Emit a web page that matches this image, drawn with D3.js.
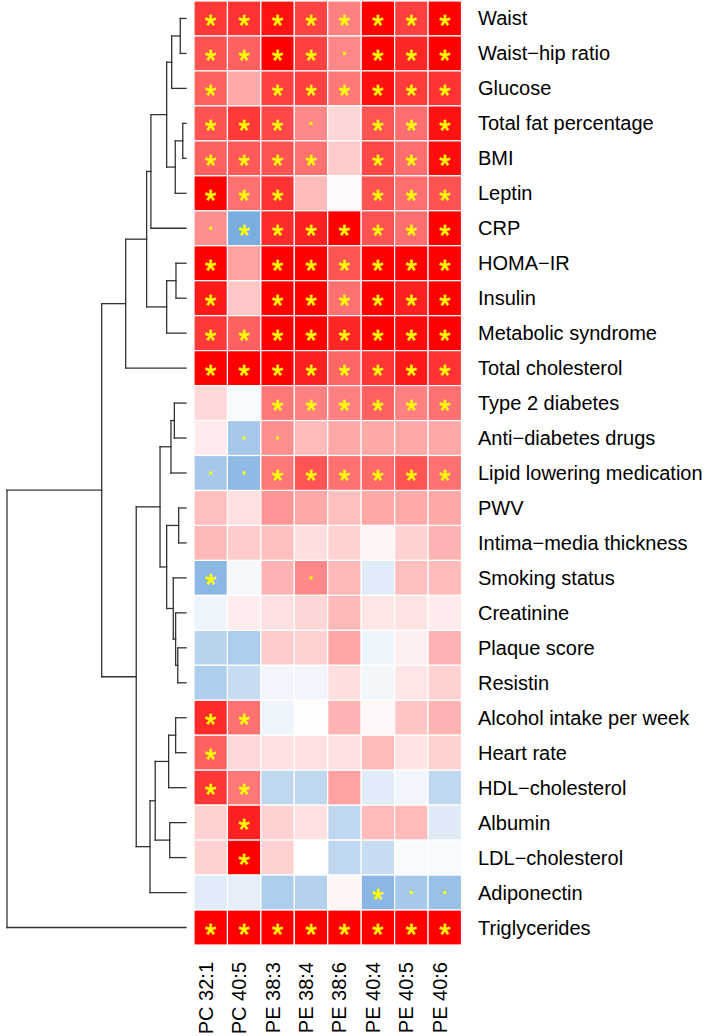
<!DOCTYPE html>
<html>
<head>
<meta charset="utf-8">
<script src="https://cdn.jsdelivr.net/npm/d3@7"></script>
<style>
  html, body { margin: 0; padding: 0; background: #ffffff; }
  svg { display: block; }
  text { font-family: "Liberation Sans", Arial, Helvetica, sans-serif; }
</style>
</head>
<body>
<div id="chart"></div>
<script>
// ---------------- data ----------------
const columns = ["PC 32:1", "PC 40:5", "PE 38:3", "PE 38:4", "PE 38:6", "PE 40:4", "PE 40:5", "PE 40:6"];

const rows = [
  "Waist", "Waist\u2212hip ratio", "Glucose", "Total fat percentage", "BMI", "Leptin", "CRP",
  "HOMA\u2212IR", "Insulin", "Metabolic syndrome", "Total cholesterol", "Type 2 diabetes",
  "Anti\u2212diabetes drugs", "Lipid lowering medication", "PWV", "Intima\u2212media thickness",
  "Smoking status", "Creatinine", "Plaque score", "Resistin", "Alcohol intake per week",
  "Heart rate", "HDL\u2212cholesterol", "Albumin", "LDL\u2212cholesterol", "Adiponectin", "Triglycerides"
];

// association values (positive = red, negative = blue), one array per row
const values = [
  [0.78, 0.80, 0.93, 0.74, 0.50, 1.00, 0.75, 1.00],
  [0.68, 0.62, 1.00, 0.75, 0.47, 1.00, 0.85, 1.00],
  [0.62, 0.33, 0.75, 0.75, 0.53, 0.94, 0.77, 0.80],
  [0.68, 0.78, 0.72, 0.47, 0.16, 0.67, 0.57, 0.93],
  [0.62, 0.65, 0.68, 0.56, 0.20, 0.72, 0.57, 0.95],
  [1.00, 0.56, 0.80, 0.27, 0.02, 0.68, 0.57, 0.68],
  [0.44, -0.52, 0.83, 0.87, 1.00, 0.68, 0.57, 1.00],
  [1.00, 0.37, 1.00, 1.00, 0.67, 1.00, 1.00, 1.00],
  [0.90, 0.22, 1.00, 1.00, 0.56, 1.00, 0.87, 1.00],
  [0.78, 0.62, 1.00, 1.00, 0.85, 1.00, 0.96, 1.00],
  [1.00, 1.00, 1.00, 0.87, 0.60, 0.79, 0.90, 0.80],
  [0.15, -0.03, 0.53, 0.50, 0.50, 0.62, 0.50, 0.56],
  [0.08, -0.35, 0.44, 0.27, 0.34, 0.34, 0.34, 0.34],
  [-0.35, -0.44, 0.53, 0.67, 0.56, 0.59, 0.67, 0.56],
  [0.25, 0.12, 0.42, 0.34, 0.25, 0.34, 0.33, 0.34],
  [0.28, 0.20, 0.25, 0.13, 0.18, 0.04, 0.18, 0.30],
  [-0.46, -0.04, 0.30, 0.47, 0.28, -0.12, 0.25, 0.27],
  [-0.07, 0.07, 0.12, 0.16, 0.28, 0.10, 0.11, 0.08],
  [-0.28, -0.32, 0.20, 0.18, 0.35, -0.07, 0.06, 0.30],
  [-0.32, -0.22, -0.06, -0.06, 0.13, -0.05, 0.10, 0.18],
  [0.83, 0.56, -0.07, 0.01, 0.30, 0.03, 0.23, 0.30],
  [0.62, 0.15, 0.12, 0.12, 0.12, 0.27, 0.11, 0.18],
  [0.79, 0.53, -0.25, -0.25, 0.37, -0.12, -0.06, -0.25],
  [0.18, 0.87, 0.18, 0.12, -0.25, 0.27, 0.27, -0.13],
  [0.18, 1.00, 0.18, 0.00, -0.25, -0.22, -0.03, -0.03],
  [-0.12, -0.10, -0.32, -0.30, 0.04, -0.46, -0.35, -0.40],
  [1.00, 1.00, 1.00, 1.00, 1.00, 1.00, 1.00, 1.00]
];

// significance marks: "*" significant, "." suggestive, " " none
const signif = [
  "********", "****.***", "* ******", "***. ***", "**** ***", "***  ***", ".*******",
  "* ******", "* ******", "********", "********", "  ******", " ..     ", "..******",
  "        ", "        ", "*  .    ", "        ", "        ", "        ", "**      ",
  "*       ", "**      ", " *      ", " *      ", "     *..", "********"
];

// hierarchical clustering (hclust style): negative = leaf (row number), positive = earlier merge
const merges = [
  [-1, -2], [1, -3], [-4, -5], [3, -6], [2, 4], [5, -7], [-8, -9], [7, -10], [6, 8], [9, -11],
  [-12, -13], [11, -14], [-15, -16], [-19, -20], [-18, 14], [-17, 15], [13, 16], [12, 17],
  [-21, -22], [19, -23], [-24, -25], [20, 21], [22, -26], [18, 23], [10, 24], [25, -27]
];
const mergeHeights = [
  0.032, 0.080, 0.018, 0.060, 0.108, 0.196, 0.056, 0.108, 0.220, 0.337,
  0.065, 0.084, 0.041, 0.046, 0.058, 0.071, 0.108, 0.145,
  0.058, 0.097, 0.091, 0.172, 0.201, 0.278, 0.471, 1.000
];

// ---------------- layout ----------------
const W = 709, H = 1036;
const heat = { left: 194, right: 461.5, top: 1, bottom: 945 };
const treeLeft = 7, treeRight = 186;

const svg = d3.select("#chart").append("svg").attr("width", W).attr("height", H);

const x = d3.scaleBand().domain(columns).range([heat.left, heat.right]).padding(0);
const y = d3.scaleBand().domain(rows).range([heat.top, heat.bottom]).padding(0);
const color = d3.scaleLinear().domain([-1, 0, 1]).range(["#0062c3", "#ffffff", "#ff0000"]).clamp(true);
const hx = d3.scaleLinear().domain([0, 1]).range([treeRight, treeLeft]);

const cells = [];
rows.forEach((r, i) => columns.forEach((c, j) => cells.push({ r, c, v: values[i][j], s: signif[i][j] })));

// heatmap cells
svg.append("g").selectAll("rect").data(cells).join("rect")
  .attr("x", d => x(d.c))
  .attr("y", d => y(d.r))
  .attr("width", x.bandwidth())
  .attr("height", y.bandwidth())
  .attr("fill", d => color(d.v))
  .attr("stroke", "#ffffff")
  .attr("stroke-width", 1.2);

// significance marks
const marks = svg.append("g");
marks.selectAll("text").data(cells.filter(d => d.s === "*")).join("text")
  .attr("x", d => x(d.c) + x.bandwidth() / 2)
  .attr("y", d => y(d.r) + y.bandwidth() / 2 + 16.5)
  .attr("text-anchor", "middle")
  .attr("font-size", 29)
  .attr("fill", "#ffff00")
  .attr("stroke", "#ffff00")
  .attr("stroke-width", 0.6)
  .text("*");
marks.selectAll("rect").data(cells.filter(d => d.s === ".")).join("rect")
  .attr("x", d => x(d.c) + x.bandwidth() / 2 - 1.5)
  .attr("y", d => y(d.r) + y.bandwidth() / 2 - 1.5)
  .attr("width", 3)
  .attr("height", 3)
  .attr("fill", "#ffff00");

// row labels
svg.append("g").selectAll("text").data(rows).join("text")
  .attr("x", heat.right + 16.5)
  .attr("y", d => y(d) + y.bandwidth() / 2 + 7)
  .attr("font-size", 20)
  .attr("fill", "#000")
  .text(d => d);

// column labels
svg.append("g").selectAll("text").data(columns).join("text")
  .attr("transform", d => `translate(${x(d) + x.bandwidth() / 2 + 2},${962}) rotate(-90)`)
  .attr("text-anchor", "end")
  .attr("font-size", 20)
  .attr("fill", "#000")
  .text(d => d);

// dendrogram
const nodes = []; // computed positions for merges
function pos(id) {
  if (id < 0) {
    const r = rows[-id - 1];
    return { x: hx(0), y: y(r) + y.bandwidth() / 2 };
  }
  return nodes[id - 1];
}
const segs = [];
merges.forEach((m, k) => {
  const a = pos(m[0]), b = pos(m[1]);
  const nx = hx(mergeHeights[k]);
  segs.push([nx, a.y, nx, b.y]);
  segs.push([nx, a.y, a.x, a.y]);
  segs.push([nx, b.y, b.x, b.y]);
  nodes.push({ x: nx, y: (a.y + b.y) / 2 });
});
svg.append("g").selectAll("line").data(segs).join("line")
  .attr("x1", d => d[0]).attr("y1", d => d[1])
  .attr("x2", d => d[2]).attr("y2", d => d[3])
  .attr("stroke", "#333333")
  .attr("stroke-width", 1.3)
  .attr("stroke-linecap", "square");
</script>
</body>
</html>
